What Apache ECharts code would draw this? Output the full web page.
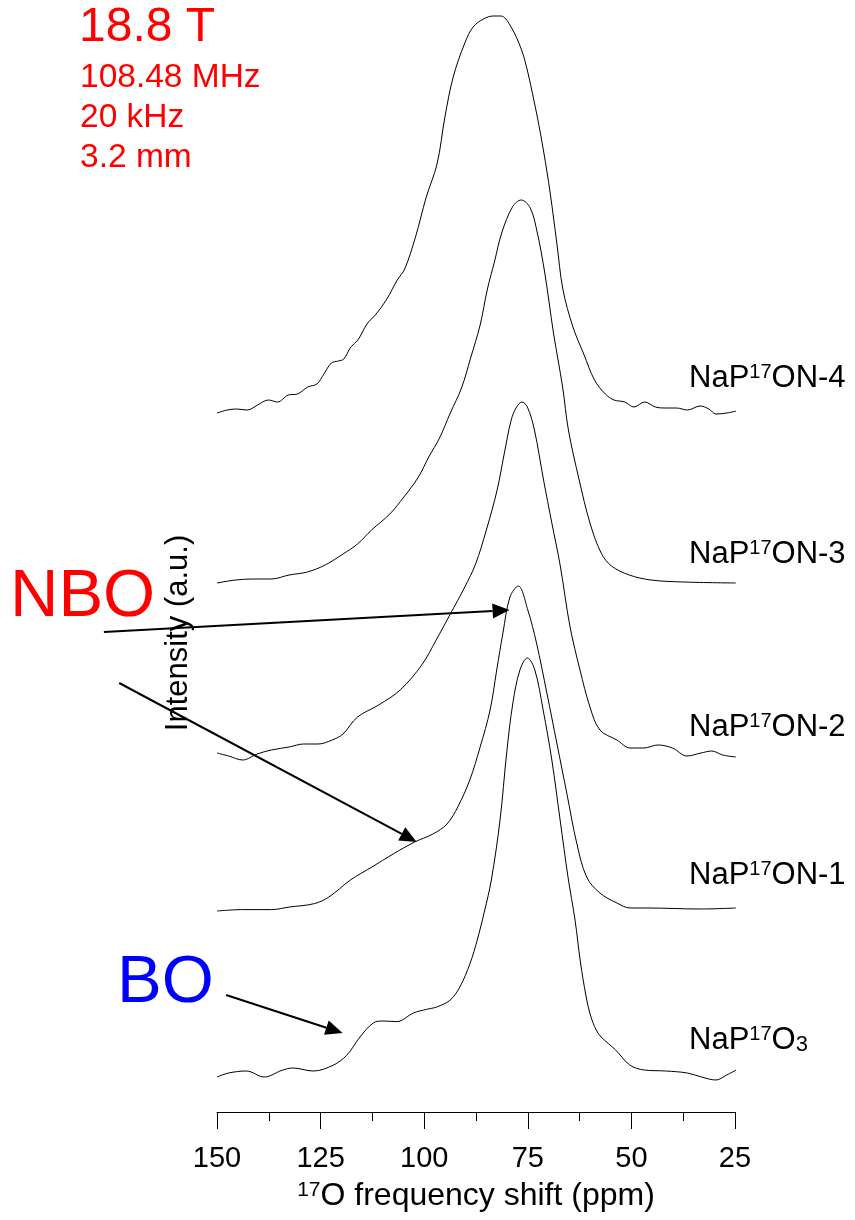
<!DOCTYPE html>
<html><head><meta charset="utf-8">
<script src="https://cdn.jsdelivr.net/npm/echarts@6/dist/echarts.min.js"></script>
<style>html,body{margin:0;padding:0;background:#fff}#c{width:855px;height:1220px}</style>
</head><body><div id="c"></div>
<script>
const FONT = 'Liberation Sans, Arial, Helvetica, sans-serif';

// x axis (ppm, reversed)
const xMin = 25, xMax = 150, xStep = 25;

// sample names (bottom to top) and vertical stacking offsets (a.u.)
const sampleNames = ['NaP17O3', 'NaP17ON-1', 'NaP17ON-2', 'NaP17ON-3', 'NaP17ON-4'];
const offsets = [35, 201, 359, 529, 699];

// spectra: [ppm, intensity (a.u.)]
const specO3 = [[150,0],[147.2,4],[142.9,6],[138.6,0],[134.3,6.7],[131.7,9],[126.8,6],[122.0,11.7],[118.7,21.7],[115.5,40],[112.3,54],[109.9,56],[106.6,55.4],[102.6,64],[99.4,67.7],[97.0,70],[93.8,76.7],[91.4,90],[88.9,114],[87.2,137],[85.5,165],[83.8,197],[81.7,257],[80.1,324],[78.6,374],[76.9,407],[75.1,419],[73.3,407],[71.3,367],[69.2,317],[67.2,257],[65.3,200],[63.6,157],[62.3,115],[61.0,82],[59.9,62],[58.5,47],[57.3,40],[53.8,27],[50.4,12],[46.9,7],[41.7,6],[36.5,4],[33.1,0],[29.6,-3],[27.0,2],[24.7,7]];
const specON1 = [[150,0],[143.8,1.4],[136.8,1.4],[132.5,4],[126.5,7.4],[123.0,14],[117.8,31],[112.6,44],[107.5,57],[102.3,69],[97.9,77],[94.5,87],[91.9,104],[89.0,131],[86.5,164],[84.1,201],[82.5,241],[81.0,278],[79.3,314],[77.3,325],[75.0,301],[72.9,268],[70.4,218],[68.0,168],[65.6,118],[63.2,68],[60.8,34],[57.6,18],[53.5,8],[50.3,3],[46.0,3],[33.4,2],[24.8,3]];
const specON2 = [[150,0],[147.2,-3],[143.8,-7],[140.3,-1],[136.9,3],[132.6,6],[129.1,9],[125.6,9],[122.2,13],[119.6,19],[116.1,36],[111.0,48],[105.8,63],[100.6,88],[97.1,113],[93.7,139],[90.2,166],[87.6,189],[85.0,223],[82.4,263],[80.7,299],[79.0,333],[77.7,346],[76.4,351],[75.1,346],[73.4,323],[71.2,273],[69.2,230],[67.2,188],[64.8,126],[62.4,83],[60.0,46],[57.6,23],[53.5,13],[50.3,5],[47.0,5],[43.6,8],[40.1,5],[36.6,-3],[33.2,0],[30.6,2],[28.0,-2],[24.8,-4]];
const specON3 = [[150,0],[145.5,3],[141.2,4],[136.9,4],[132.6,8],[128.2,11],[123.9,18],[119.6,29],[116.1,39],[112.7,53],[108.3,69],[104.9,86],[101.4,106],[98.9,126],[96.3,145],[93.7,170],[91.0,195],[88.8,225],[86.5,258],[84.8,293],[83.0,322],[81.3,350],[78.7,376],[76.6,383],[74.4,375],[72.7,350],[70.9,310],[68.8,250],[66.6,196],[65.2,153],[62.6,103],[60.0,60],[57.3,30],[54.8,17],[50.5,8],[45.3,3],[37.5,1],[24.8,0]];
const specON4 = [[150,0],[147.5,3],[145.3,4],[142.7,3],[140.2,8],[137.6,13],[135.4,11],[132.8,18],[130.6,19],[128.1,26],[125.9,29],[124.2,39],[122.4,50],[120.7,52],[119.4,54],[117.7,66],[116.0,73],[113.8,89],[111.6,99],[109.0,114],[106.5,133],[104.7,144],[102.1,176],[99.5,216],[96.9,249],[95.0,296],[93.0,336],[90.2,370],[88.2,386],[85.7,394],[83.3,397],[81.5,397],[79.3,388],[76.5,363],[74.9,339],[73.7,316],[72.7,296],[71.2,262],[69.6,220],[68.0,170],[66.5,123],[64.1,86],[61.5,59],[58.9,33],[56.3,19],[54.2,13],[51.6,11],[49.4,6],[46.8,11],[44.2,6],[41.7,5],[39.1,5],[36.5,3],[33.4,7],[31.3,4],[29.6,-1],[27.0,0],[24.6,2]];
const spectra = [specO3, specON1, specON2, specON3, specON4];

// annotation arrows in data coords: [fromPpm, fromY, toPpm, toY]
const arrowsNBO = [[177.3, 480, 79.4, 502], [173.6, 429, 101.8, 270]];
const arrowsBO = [[147.8, 117, 119.7, 79]];

const chart = echarts.init(document.getElementById('c'), null, {renderer: 'canvas'});

const series = spectra.map((s, i) => ({
  type: 'line',
  name: sampleNames[i],
  data: s.map(p => [p[0], p[1] + offsets[i]]),
  showSymbol: false,
  smooth: 0.35,
  lineStyle: {color: '#000', width: 1},
  silent: true
}));

chart.setOption({
  animation: false,
  backgroundColor: '#fff',
  grid: {left: 217, right: 120, top: 10, bottom: 108, containLabel: false},
  xAxis: {
    type: 'value', inverse: true, min: xMin, max: xMax, interval: xStep,
    axisLine: {lineStyle: {color: '#000', width: 1}},
    axisTick: {length: 17, lineStyle: {color: '#000', width: 1}},
    minorTick: {show: true, splitNumber: 2, length: 9, lineStyle: {color: '#000', width: 1}},
    splitLine: {show: false},
    axisLabel: {fontSize: 29, color: '#000', fontFamily: FONT, margin: 32},
    name: '{s|17}O frequency shift (ppm)',
    nameLocation: 'middle', nameGap: 68,
    nameTextStyle: {fontSize: 32, color: '#000', fontFamily: FONT,
      rich: {s: {fontSize: 21, fontFamily: FONT, color: '#000', verticalAlign: 'top'}}}
  },
  yAxis: {type: 'value', min: 0, max: 1102, show: false},
  series: series
});

function px(p, v) { return chart.convertToPixel({gridIndex: 0}, [p, v]); }
function arrow(a) {
  const s = px(a[0], a[1]), t = px(a[2], a[3]);
  const dx = t[0] - s[0], dy = t[1] - s[1], L = Math.hypot(dx, dy);
  const ux = dx / L, uy = dy / L, hl = 17, hw = 7.5;
  const bx = t[0] - ux * hl, by = t[1] - uy * hl;
  return [
    {type: 'line', shape: {x1: s[0], y1: s[1], x2: bx, y2: by}, style: {stroke: '#000', lineWidth: 2}, z: 10},
    {type: 'polygon', shape: {points: [[t[0], t[1]], [bx - uy * hw, by + ux * hw], [bx + uy * hw, by - ux * hw]]}, style: {fill: '#000'}, z: 10}
  ];
}
function txt(text, x, y, size, color, extra) {
  return Object.assign({type: 'text', x: x, y: y, z: 20,
    style: Object.assign({text: text, fill: color, fontSize: size, fontFamily: FONT, align: 'left', verticalAlign: 'middle'}, extra || {})});
}
const labRich = {
  a: {fontSize: 31, fontFamily: FONT, fill: '#000'},
  s: {fontSize: 20, fontFamily: FONT, fill: '#000', verticalAlign: 'top'},
  d: {fontSize: 22, fontFamily: FONT, fill: '#000', verticalAlign: 'bottom'}
};
function sampleLabel(name) {
  const rest = name.replace(/^NaP17/, '');
  if (rest === 'O3') return '{a|NaP}{s|17}{a|O}{d|3}';
  return '{a|NaP}{s|17}{a|' + rest + '}';
}
const labelY = [1040, 875, 727, 554, 378];
const graphics = [];
arrowsNBO.concat(arrowsBO).forEach(a => graphics.push(...arrow(a)));
sampleNames.forEach((n, i) => {
  graphics.push(txt(sampleLabel(n), 689, labelY[i], 31, '#000', {rich: labRich}));
});
graphics.push(txt('18.8 T', 79, 28, 48, '#ff0000'));
graphics.push(txt('108.48 MHz', 80, 78, 33.5, '#ff0000'));
graphics.push(txt('20 kHz', 80, 118, 33.5, '#ff0000'));
graphics.push(txt('3.2 mm', 80, 158, 33.5, '#ff0000'));
graphics.push(txt('NBO', 10, 598, 67, '#ff0000'));
graphics.push(txt('BO', 117, 984, 67, '#0000ff'));
graphics.push({type: 'text', x: 178, y: 633, rotation: Math.PI / 2, z: 20,
  style: {text: 'Intensity (a.u.)', fill: '#000', fontSize: 31, fontFamily: FONT, align: 'center', verticalAlign: 'middle'}});
chart.setOption({graphic: graphics});
</script>
</body></html>
